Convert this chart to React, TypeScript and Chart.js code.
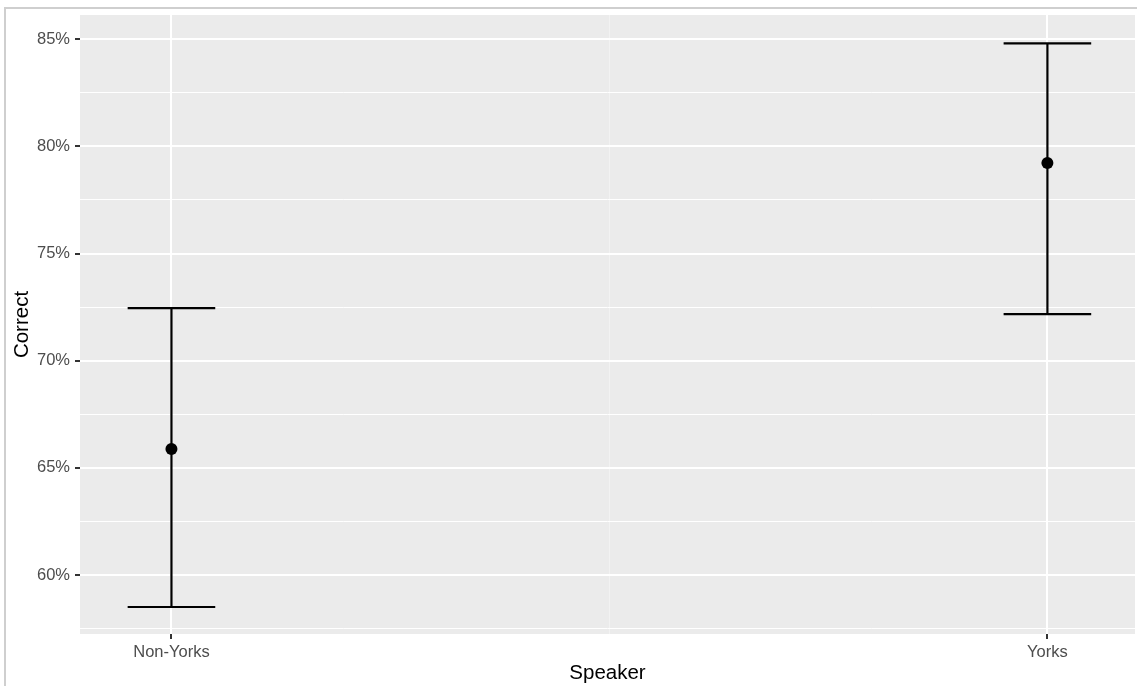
import React, { useEffect, useRef } from 'react';
import { Chart, registerables } from 'chart.js';

Chart.register(...registerables);

const categories = ['Non-Yorks', 'Yorks'];
const categoryPositions = [1, 2];
const meanCorrect = [65.88, 79.22];
const lowerCI = [58.51, 72.17];
const upperCI = [72.45, 84.81];
const yTickValues = [57.5, 60, 62.5, 65, 67.5, 70, 72.5, 75, 77.5, 80, 82.5, 85];
const xTickValues = [1, 1.5, 2];
const capHalfWidth = 0.05;

const FONT = "'Liberation Sans', Arial, sans-serif";

const panelBg = {
  id: 'panelBg',
  beforeDraw(chart: any) {
    const { ctx, chartArea: a } = chart;
    ctx.save();
    ctx.fillStyle = '#ebebeb';
    ctx.fillRect(a.left, a.top, a.right - a.left, a.bottom - a.top);
    ctx.restore();
  },
};

export default function App() {
  const ref = useRef<HTMLCanvasElement | null>(null);

  useEffect(() => {
    if (!ref.current) return;
    const lineStyle = {
      showLine: true,
      borderColor: '#000000',
      borderWidth: 2.2,
      pointRadius: 0,
      pointHoverRadius: 0,
      fill: false,
    };
    const datasets: any[] = [];
    categoryPositions.forEach((pos, i) => {
      datasets.push({
        ...lineStyle,
        data: [
          { x: pos, y: lowerCI[i] },
          { x: pos, y: upperCI[i] },
        ],
      });
      datasets.push({
        ...lineStyle,
        data: [
          { x: pos - capHalfWidth, y: upperCI[i] },
          { x: pos + capHalfWidth, y: upperCI[i] },
        ],
      });
      datasets.push({
        ...lineStyle,
        data: [
          { x: pos - capHalfWidth, y: lowerCI[i] },
          { x: pos + capHalfWidth, y: lowerCI[i] },
        ],
      });
    });
    datasets.push({
      data: categoryPositions.map((pos, i) => ({ x: pos, y: meanCorrect[i] })),
      pointRadius: 6,
      pointBackgroundColor: '#000000',
      pointBorderColor: '#000000',
      pointBorderWidth: 0,
      showLine: false,
    });

    const isMajorY = (v: number) => Math.abs(v % 5) < 1e-6;
    const isMajorX = (v: number) => categoryPositions.includes(v);

    const chart = new Chart(ref.current, {
      type: 'scatter',
      data: { datasets },
      plugins: [panelBg],
      options: {
        animation: false,
        responsive: false,
        events: [],
        layout: { autoPadding: false, padding: { top: 15, right: 2, left: 0, bottom: 0 } },
        plugins: { legend: { display: false }, tooltip: { enabled: false } },
        scales: {
          x: {
            type: 'linear',
            min: 0.8956,
            max: 2.1,
            afterBuildTicks: (s: any) => {
              s.ticks = xTickValues.map((v) => ({ value: v }));
            },
            afterFit: (s: any) => {
              s.height = 52;
            },
            border: { display: false },
            grid: {
              color: (ctx: any) =>
                ctx.tick && isMajorX(ctx.tick.value) ? '#ffffff' : 'rgba(255,255,255,0.35)',
              lineWidth: (ctx: any) => (ctx.tick && isMajorX(ctx.tick.value) ? 2 : 1),
              tickColor: (ctx: any) =>
                ctx.tick && isMajorX(ctx.tick.value) ? '#333333' : 'rgba(0,0,0,0)',
              tickLength: 5,
              drawTicks: true,
            },
            ticks: {
              autoSkip: false,
              maxRotation: 0,
              padding: 4,
              color: '#4d4d4d',
              font: { family: FONT, size: 16.5 },
              callback: (v: any) => {
                const i = categoryPositions.indexOf(Number(v));
                return i >= 0 ? categories[i] : '';
              },
            },
            title: {
              display: true,
              text: 'Speaker',
              color: '#000000',
              font: { family: FONT, size: 20.5 },
              padding: { top: 0, bottom: 0 },
            },
          },
          y: {
            type: 'linear',
            min: 57.25,
            max: 86.13,
            afterBuildTicks: (s: any) => {
              s.ticks = yTickValues.map((v) => ({ value: v }));
            },
            afterFit: (s: any) => {
              s.width = 80;
            },
            border: { display: false },
            grid: {
              color: '#ffffff',
              lineWidth: (ctx: any) => (ctx.tick && isMajorY(ctx.tick.value) ? 2 : 1),
              tickColor: (ctx: any) =>
                ctx.tick && isMajorY(ctx.tick.value) ? '#333333' : 'rgba(0,0,0,0)',
              tickLength: 5,
              drawTicks: true,
            },
            ticks: {
              autoSkip: false,
              padding: 5,
              color: '#4d4d4d',
              font: { family: FONT, size: 16.5 },
              callback: (v: any) => (isMajorY(Number(v)) ? `${Number(v)}%` : ''),
            },
            title: {
              display: true,
              text: 'Correct',
              color: '#000000',
              font: { family: FONT, size: 20.5 },
              padding: { top: 10, bottom: 0 },
            },
          },
        },
      },
    });
    return () => chart.destroy();
  }, []);

  return (
    <div style={{ position: 'fixed', left: 0, top: 0, width: 1137, height: 686, background: '#ffffff', overflow: 'hidden' }}>
      <canvas ref={ref} width={1137} height={686} style={{ position: 'absolute', left: 0, top: 0, width: 1137, height: 686 }} />
      <div
        style={{
          position: 'absolute',
          left: 4,
          top: 7,
          width: 1200,
          height: 800,
          borderLeft: '2px solid #cfcfcf',
          borderTop: '2px solid #cfcfcf',
          pointerEvents: 'none',
        }}
      />
    </div>
  );
}
